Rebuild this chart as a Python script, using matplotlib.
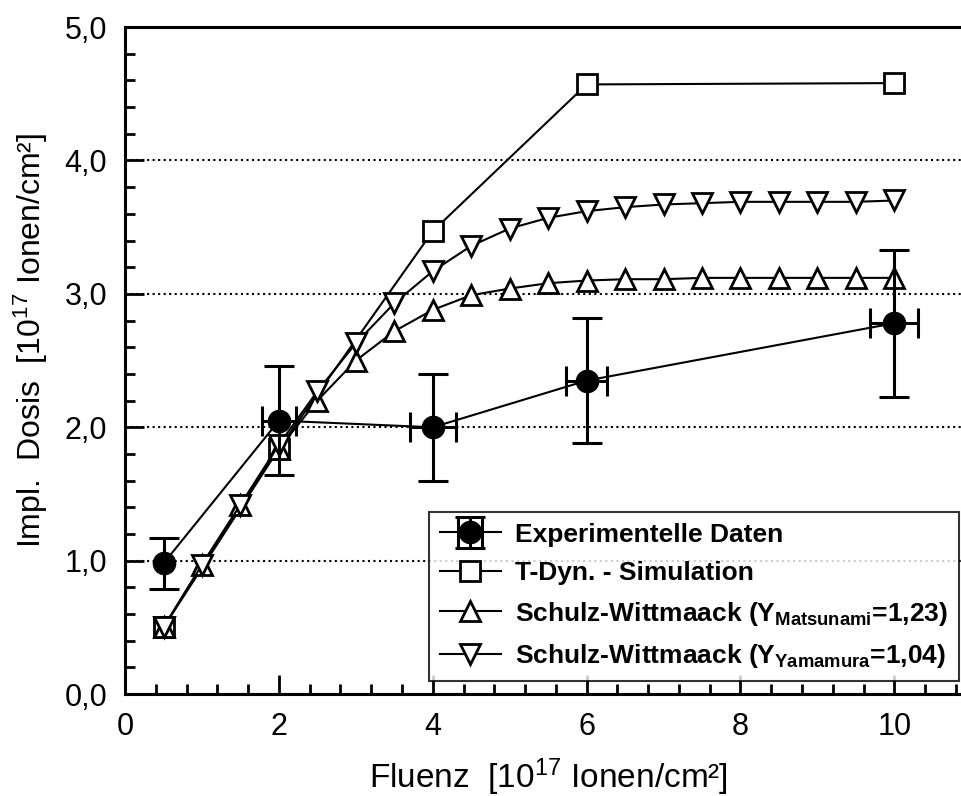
import numpy as np
import matplotlib
matplotlib.use("Agg")
from matplotlib import pyplot as plt
from matplotlib.ticker import MultipleLocator, FuncFormatter
from matplotlib.legend_handler import HandlerErrorbar

plt.rcParams['font.family'] = ['Liberation Sans', 'DejaVu Sans']
plt.rcParams['mathtext.default'] = 'regular'

# experimental data
exp_x = [0.5, 2, 4, 6, 10]
exp_y = [0.98, 2.05, 2.0, 2.35, 2.78]
exp_yerr = [0.19, 0.41, 0.40, 0.47, 0.55]
exp_xerr = [0.0, 0.22, 0.30, 0.27, 0.31]

# T-Dyn simulation
tdyn_x = [0.5, 2, 4, 6, 10]
tdyn_y = [0.50, 1.84, 3.47, 4.57, 4.58]

# Schulz-Wittmaack model curves
sw_x = [0.5, 1.0, 1.5, 2.0, 2.5, 3.0, 3.5, 4.0, 4.5, 5.0,
        5.5, 6.0, 6.5, 7.0, 7.5, 8.0, 8.5, 9.0, 9.5, 10.0]
matsu_y = [0.50, 0.97, 1.42, 1.84, 2.20, 2.50, 2.72, 2.88, 2.99, 3.04,
           3.08, 3.10, 3.11, 3.11, 3.12, 3.12, 3.12, 3.12, 3.12, 3.12]
yama_y = [0.50, 0.97, 1.42, 1.87, 2.27, 2.63, 2.93, 3.17, 3.36, 3.49,
          3.57, 3.62, 3.65, 3.67, 3.68, 3.69, 3.69, 3.69, 3.69, 3.70]

fig = plt.figure(figsize=(9.62, 7.96), dpi=100)
ax = fig.add_axes([0.130, 0.128, 0.870, 0.838])

lw = 1.5
ms = 15

ax.plot(tdyn_x, tdyn_y, color='black', lw=lw, marker='s', ms=ms,
        mfc='white', mec='black', mew=2, label='T-Dyn. - Simulation', zorder=3)
ax.plot(sw_x, matsu_y, color='black', lw=lw, marker='^', ms=ms,
        mfc='white', mec='black', mew=2,
        label='Schulz-Wittmaack (Y$_{Matsunami}$=1,23)', zorder=3)
ax.plot(sw_x, yama_y, color='black', lw=lw, marker='v', ms=ms,
        mfc='white', mec='black', mew=2,
        label='Schulz-Wittmaack (Y$_{Yamamura}$=1,04)', zorder=3)
eb = ax.errorbar(exp_x, exp_y, yerr=exp_yerr, xerr=exp_xerr, color='black',
                 lw=lw, marker='o', ms=16, mfc='black', mec='black',
                 ecolor='black', elinewidth=2.2, capsize=11, capthick=2.2,
                 label='Experimentelle Daten', zorder=4)

ax.set_xlim(0, 10.88)
ax.set_ylim(0, 5)
ax.xaxis.set_major_locator(MultipleLocator(2))
ax.xaxis.set_minor_locator(MultipleLocator(0.4))
ax.yaxis.set_major_locator(MultipleLocator(1))
ax.yaxis.set_minor_locator(MultipleLocator(0.2))
ax.yaxis.set_major_formatter(FuncFormatter(lambda v, p: ('%.1f' % v).replace('.', ',')))
ax.xaxis.set_major_formatter(FuncFormatter(lambda v, p: '%d' % v))

ax.tick_params(which='both', direction='in', top=False, right=False,
               labelsize=22, width=2, color='black')
ax.tick_params(which='major', length=14, pad=13)
ax.tick_params(which='minor', length=7)

for s in ['left', 'bottom', 'top']:
    ax.spines[s].set_linewidth(2.2)
ax.spines['right'].set_visible(False)

ax.yaxis.grid(True, which='major', linestyle=':', color='black', lw=1.5)
ax.set_axisbelow(True)

ax.set_xlabel('Fluenz  [10$^{17}$ Ionen/cm²]', fontsize=24)
ax.set_ylabel('Impl.  Dosis  [10$^{17}$ Ionen/cm²]', fontsize=23)
ax.xaxis.set_label_coords(0.506, -0.093)
ax.yaxis.set_label_coords(-0.090, 0.531)

handles, labels = ax.get_legend_handles_labels()
order = [3, 0, 1, 2]
leg = ax.legend([handles[i] for i in order], [labels[i] for i in order],
                loc='lower right', bbox_to_anchor=(0.996, 0.02),
                prop={'weight': 'bold', 'size': 19}, frameon=True,
                fancybox=False, edgecolor='black', handlelength=2.3,
                borderpad=0.4, labelspacing=0.55, handletextpad=0.55,
                borderaxespad=0.0,
                handler_map={type(eb): HandlerErrorbar(xerr_size=0.45, yerr_size=0.6)})
leg.get_frame().set_linewidth(1.5)

fig.savefig('out.png', dpi=100)
